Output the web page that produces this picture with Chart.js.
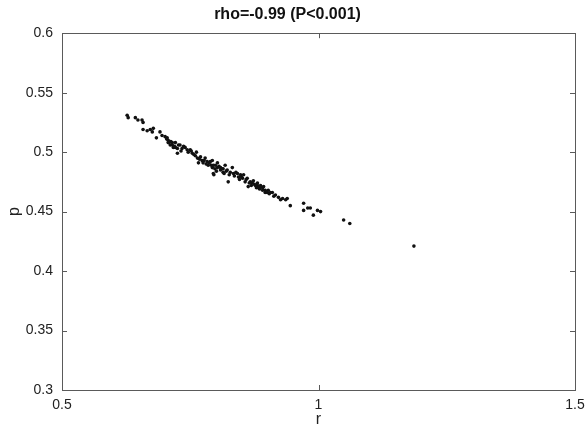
<!DOCTYPE html>
<html>
<head>
<meta charset="utf-8">
<script src="https://cdn.jsdelivr.net/npm/chart.js"></script>
<style>
  html, body { margin: 0; padding: 0; background: #fff; }
  #wrap { width: 587px; height: 426px; }
</style>
</head>
<body>
<div id="wrap"><canvas id="chart"></canvas></div>
<script>
// values
const rValues = [
  0.627, 0.629, 0.643, 0.648, 0.656, 0.658, 0.658, 0.666, 0.672, 0.676, 0.678, 0.684,
  0.691, 0.695, 0.701, 0.705, 0.707, 0.709, 0.711, 0.715, 0.717, 0.721, 0.725, 0.727,
  0.704, 0.707, 0.715, 0.721, 0.725, 0.730, 0.734, 0.740, 0.744, 0.750, 0.754, 0.760,
  0.764, 0.766, 0.770, 0.773, 0.775, 0.779, 0.783, 0.785, 0.789, 0.793, 0.795, 0.799,
  0.803, 0.806, 0.809, 0.814,
  0.793, 0.795, 0.796, 0.803, 0.809, 0.814, 0.818, 0.822, 0.824, 0.828, 0.832, 0.834,
  0.842, 0.844, 0.848, 0.852, 0.854, 0.857, 0.861, 0.863, 0.867, 0.871, 0.873, 0.877,
  0.881, 0.887, 0.891, 0.893, 0.896, 0.902, 0.906,
  0.881, 0.883, 0.887, 0.891, 0.896, 0.900, 0.910, 0.916, 0.922, 0.930, 0.936, 0.939,
  0.945, 0.971, 0.971, 0.979, 0.984, 0.990, 0.998, 1.004, 1.049, 1.061, 1.186,
  0.712, 0.719, 0.732, 0.737, 0.746, 0.752, 0.757, 0.762, 0.768, 0.777, 0.781, 0.787,
  0.791, 0.798, 0.801, 0.812, 0.816, 0.820, 0.826, 0.836, 0.839, 0.846, 0.850, 0.859,
  0.865, 0.869, 0.875, 0.879, 0.885, 0.904, 0.913, 0.926
];
const pValues = [
  0.531, 0.529, 0.529, 0.527, 0.527, 0.525, 0.519, 0.518, 0.519, 0.517, 0.520, 0.512,
  0.517, 0.514, 0.513, 0.512, 0.510, 0.508, 0.506, 0.508, 0.504, 0.508, 0.503, 0.506,
  0.511, 0.508, 0.506, 0.504, 0.499, 0.506, 0.503, 0.504, 0.502, 0.502, 0.499, 0.497,
  0.495, 0.491, 0.496, 0.493, 0.491, 0.495, 0.492, 0.489, 0.492, 0.487, 0.482, 0.489,
  0.487, 0.488, 0.485, 0.483,
  0.493, 0.489, 0.481, 0.491, 0.487, 0.486, 0.489, 0.485, 0.475, 0.483, 0.487, 0.482,
  0.482, 0.479, 0.481, 0.478, 0.481, 0.475, 0.478, 0.471, 0.475, 0.474, 0.476, 0.472,
  0.474, 0.472, 0.470, 0.471, 0.468, 0.468, 0.466,
  0.472, 0.470, 0.471, 0.468, 0.466, 0.466, 0.466, 0.464, 0.462, 0.461, 0.460, 0.461,
  0.455, 0.457, 0.451, 0.453, 0.453, 0.447, 0.451, 0.450, 0.443, 0.440, 0.421,
  0.509, 0.505, 0.501, 0.505, 0.500, 0.501, 0.498, 0.500, 0.494, 0.493, 0.490, 0.491,
  0.489, 0.486, 0.484, 0.486, 0.482, 0.484, 0.481, 0.480, 0.483, 0.477, 0.479, 0.477,
  0.474, 0.472, 0.473, 0.470, 0.469, 0.465, 0.463, 0.460
];
const xTicks = [0.5, 1, 1.5];
const yTicks = [0.3, 0.35, 0.4, 0.45, 0.5, 0.55, 0.6];
const chartTitle = 'rho=-0.99 (P<0.001)';

const points = rValues.map((r, i) => ({ x: r, y: pValues[i] }));
const fontFamily = '"Liberation Sans", Arial, Helvetica, sans-serif';

// matlab style box with inward ticks
const boxPlugin = {
  id: 'box',
  afterDraw(chart) {
    const ctx = chart.ctx;
    const a = chart.chartArea;
    const len = 5;
    ctx.save();
    ctx.strokeStyle = '#5a5a5a';
    ctx.lineWidth = 1;
    ctx.strokeRect(Math.round(a.left) + 0.5, Math.round(a.top) + 0.5,
      Math.round(a.right - a.left), Math.round(a.bottom - a.top));
    ctx.beginPath();
    xTicks.forEach(v => {
      const px = Math.round(chart.scales.x.getPixelForValue(v)) + 0.5;
      ctx.moveTo(px, a.bottom); ctx.lineTo(px, a.bottom - len);
      ctx.moveTo(px, a.top); ctx.lineTo(px, a.top + len);
    });
    yTicks.forEach(v => {
      const py = Math.round(chart.scales.y.getPixelForValue(v)) + 0.5;
      ctx.moveTo(a.left, py); ctx.lineTo(a.left + len, py);
      ctx.moveTo(a.right, py); ctx.lineTo(a.right - len, py);
    });
    ctx.stroke();
    ctx.restore();
  }
};

new Chart(document.getElementById('chart'), {
  type: 'scatter',
  data: {
    datasets: [{
      data: points,
      pointRadius: 1.8,
      pointHoverRadius: 1.8,
      pointBackgroundColor: '#111',
      pointBorderWidth: 0
    }]
  },
  options: {
    responsive: true,
    maintainAspectRatio: false,
    animation: false,
    layout: { padding: { left: 0, right: 12, top: 0, bottom: 0 } },
    plugins: {
      legend: { display: false },
      tooltip: { enabled: false },
      title: {
        display: true,
        text: chartTitle,
        color: '#111',
        font: { family: fontFamily, size: 16, weight: 'bold' },
        padding: { top: 5, bottom: 9 }
      }
    },
    scales: {
      x: {
        type: 'linear',
        min: 0.5, max: 1.5,
        grid: { display: false, drawTicks: false },
        border: { display: false },
        afterBuildTicks: s => { s.ticks = xTicks.map(v => ({ value: v })); },
        afterFit: s => { s.height = 36; s.paddingRight = 0; s.paddingLeft = 0; },
        ticks: {
          color: '#222',
          padding: 7,
          maxRotation: 0,
          font: { family: fontFamily, size: 14 },
          callback: v => String(+v.toFixed(2))
        },
        title: {
          display: true, text: 'r', color: '#222',
          font: { family: fontFamily, size: 16 },
          padding: { top: 0, bottom: -3 }
        }
      },
      y: {
        type: 'linear',
        min: 0.3, max: 0.6,
        grid: { display: false, drawTicks: false },
        border: { display: false },
        afterBuildTicks: s => { s.ticks = yTicks.map(v => ({ value: v })); },
        afterFit: s => { s.width = 62; },
        ticks: {
          color: '#222',
          padding: 9,
          font: { family: fontFamily, size: 14 },
          callback: v => String(+v.toFixed(2))
        },
        title: {
          display: true, text: 'p', color: '#222',
          font: { family: fontFamily, size: 16 },
          padding: { top: 5, bottom: 0 }
        }
      }
    }
  },
  plugins: [boxPlugin]
});
</script>
</body>
</html>
